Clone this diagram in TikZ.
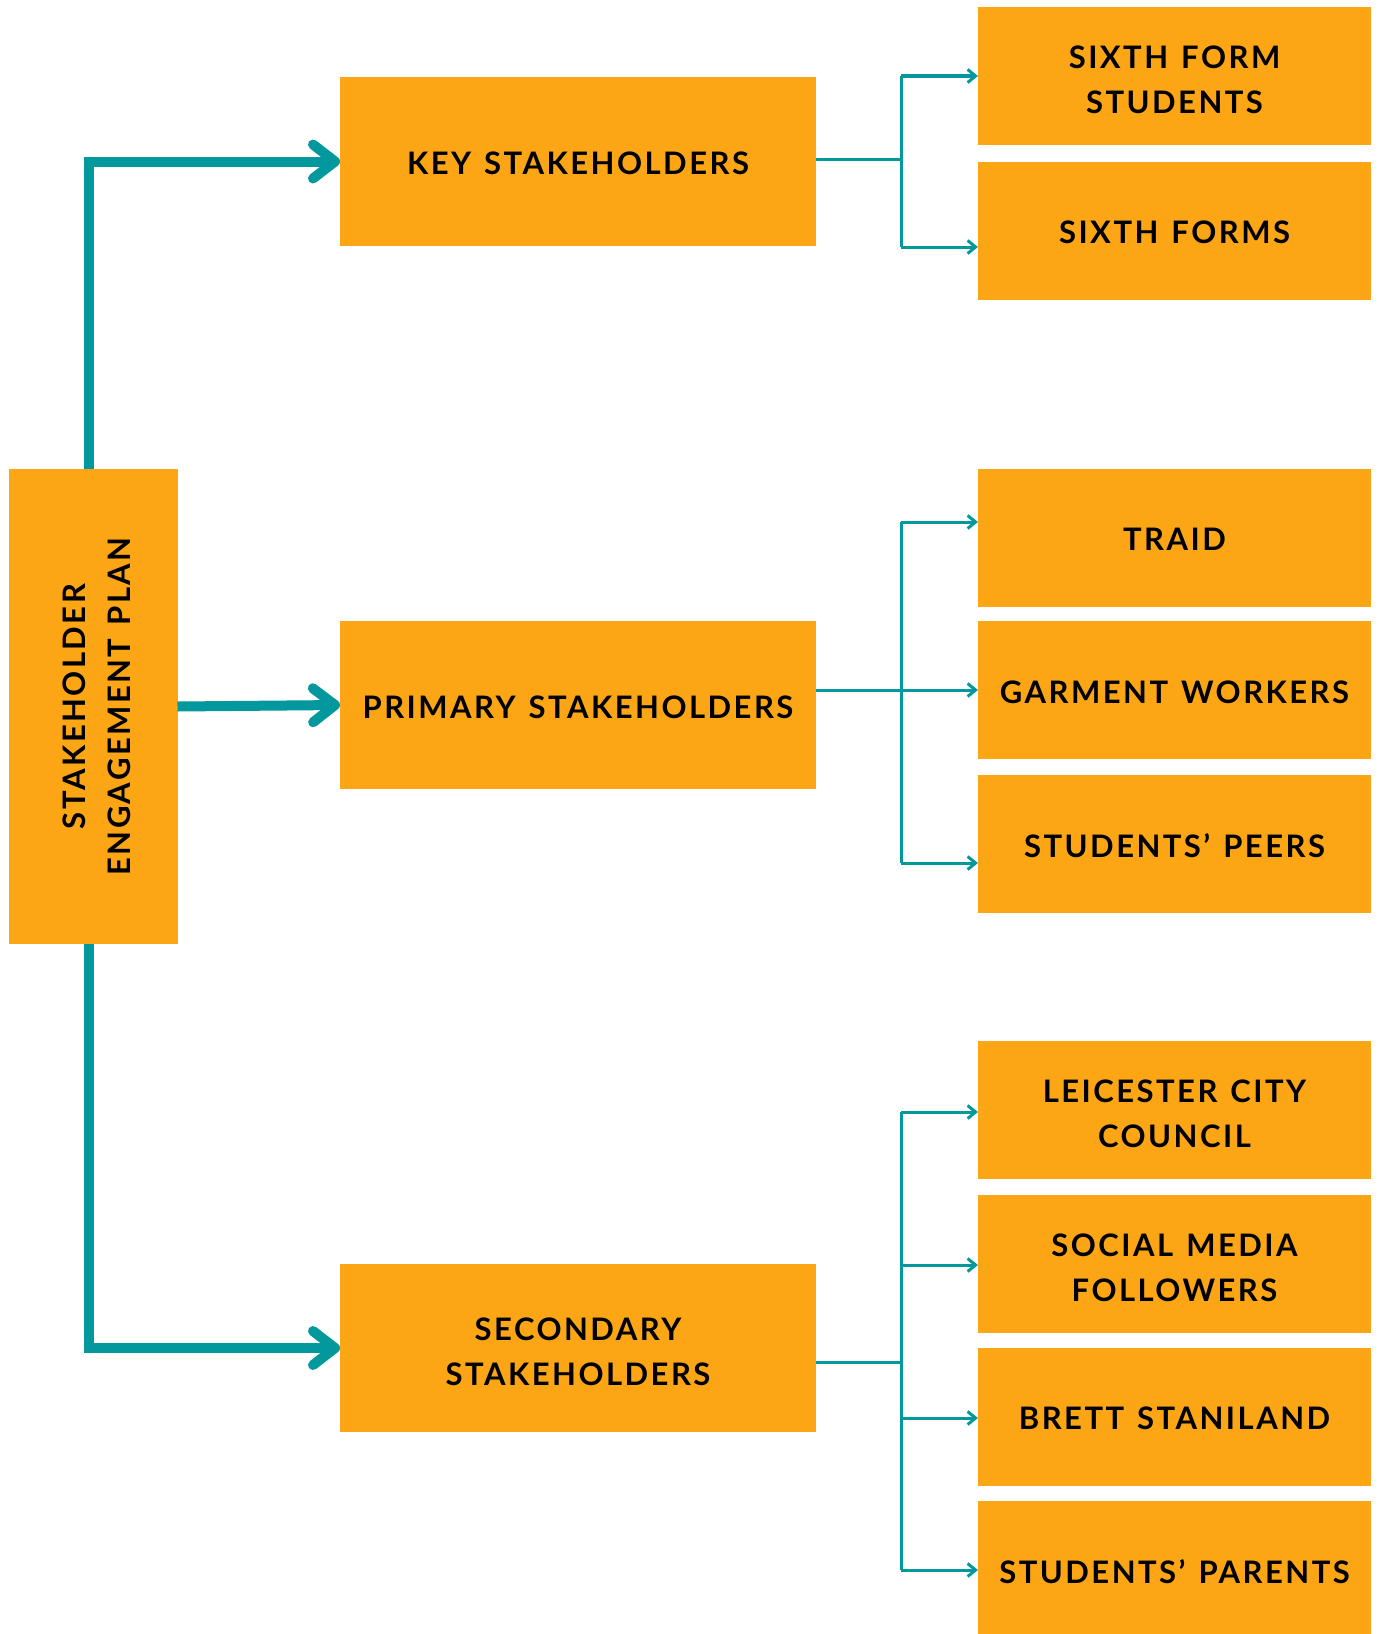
\documentclass[tikz,border=0pt]{standalone}
\usepackage{fontspec}
\newfontfamily\boxfont{Lato}[LetterSpace=8,WordSpace=1.3]
\usetikzlibrary{arrows.meta}
\definecolor{boxorange}{HTML}{FCA616}
\definecolor{teal}{HTML}{03989E}
\newcommand\twolines[3][-6bp]{\raisebox{#1}[\height][\depth]{\begin{tabular}{@{}c@{}}#2\\#3\end{tabular}}}
\newcommand\oneline[1]{\raisebox{-2bp}[\height][\depth]{#1}}
\begin{document}
\begin{tikzpicture}[x=1bp,y=-1bp,
  every node/.style={inner sep=0pt,outer sep=0pt},
  obox/.style={fill=boxorange,draw=none,align=center,
    font=\boxfont\bfseries\fontsize{31bp}{45bp}\selectfont},
  rbox/.style={obox,minimum width=393bp,minimum height=138bp},
  mbox/.style={obox,minimum width=476bp,minimum height=168bp},
  thick connector/.style={draw=teal,line width=10bp,miter limit=10,
    -{Straight Barb[round,length=22bp,width=34bp,line width=10bp]}},
  thin line/.style={draw=teal,line width=3bp},
  thin connector/.style={draw=teal,line width=3bp,
    -{Straight Barb[length=8bp,width=13bp,line width=3bp]}}
]
\useasboundingbox (0,0) rectangle (1378,1634);
\fill[white] (0,0) rectangle (1378,1634);
% main box
\node[obox,minimum width=168bp,minimum height=475bp] (plan) at (93.5,706.5) {};
\node[rotate=90,align=center,font=\boxfont\bfseries\fontsize{31bp}{45bp}\selectfont] (plantext) at (plan.center) {\twolines[-5bp]{STAKEHOLDER}{ENGAGEMENT PLAN}};
% middle boxes
\node[mbox] (key) at (578,161.5) {\oneline{KEY STAKEHOLDERS}};
\node[mbox] (prim) at (578,705) {\oneline{PRIMARY STAKEHOLDERS}};
\node[mbox] (sec) at (578,1348) {\twolines{SECONDARY}{STAKEHOLDERS}};
% right boxes
\node[rbox] (sfs) at (1174.5,76) {\twolines{SIXTH FORM}{STUDENTS}};
\node[rbox] (sf) at (1174.5,230.5) {\oneline{SIXTH FORMS}};
\node[rbox] (traid) at (1174.5,537.5) {\oneline{TRAID}};
\node[rbox] (gw) at (1174.5,690) {\oneline{GARMENT WORKERS}};
\node[rbox] (peers) at (1174.5,843.5) {\oneline{STUDENTS’ PEERS}};
\node[rbox] (lcc) at (1174.5,1110) {\twolines{LEICESTER CITY}{COUNCIL}};
\node[rbox] (smf) at (1174.5,1263.5) {\twolines{SOCIAL MEDIA}{FOLLOWERS}};
\node[rbox] (brett) at (1174.5,1416.5) {\oneline{BRETT STANILAND}};
\node[rbox] (parents) at (1174.5,1570) {\oneline{STUDENTS’ PARENTS}};
% thick connectors
\coordinate (trunk) at (89,0);
\draw[thick connector] (plan.north -| trunk) |- (key.west);
\draw[thick connector] (plan.east) -- (prim.west);
\draw[thick connector] (plan.south -| trunk) |- (sec.west);
% key group
\coordinate (kj) at (901,159.5);
\draw[thin line] (key.east |- kj) -- (kj);
\draw[thin line] (kj |- sfs.west) -- ([yshift=-16.5bp]kj |- sf.west);
\draw[thin connector] (kj |- sfs.west) -- (sfs.west);
\draw[thin connector] ([yshift=-16.5bp]kj |- sf.west) -- ([yshift=-16.5bp]sf.west);
% primary group
\coordinate (pj) at (901,690);
\draw[thin line] (prim.east |- pj) -- (pj);
\draw[thin line] ([yshift=15.5bp]pj |- traid.west) -- ([yshift=-19.5bp]pj |- peers.west);
\draw[thin connector] ([yshift=15.5bp]pj |- traid.west) -- ([yshift=15.5bp]traid.west);
\draw[thin connector] (pj |- gw.west) -- (gw.west);
\draw[thin connector] ([yshift=-19.5bp]pj |- peers.west) -- ([yshift=-19.5bp]peers.west);
% secondary group
\coordinate (sj) at (901,1362);
\draw[thin line] (sec.east |- sj) -- (sj);
\draw[thin line] ([yshift=-2bp]sj |- lcc.west) -- (sj |- parents.west);
\draw[thin connector] ([yshift=-2bp]sj |- lcc.west) -- ([yshift=-2bp]lcc.west);
\draw[thin connector] ([yshift=-1.5bp]sj |- smf.west) -- ([yshift=-1.5bp]smf.west);
\draw[thin connector] ([yshift=-1.5bp]sj |- brett.west) -- ([yshift=-1.5bp]brett.west);
\draw[thin connector] (sj |- parents.west) -- (parents.west);
\end{tikzpicture}
\end{document}
